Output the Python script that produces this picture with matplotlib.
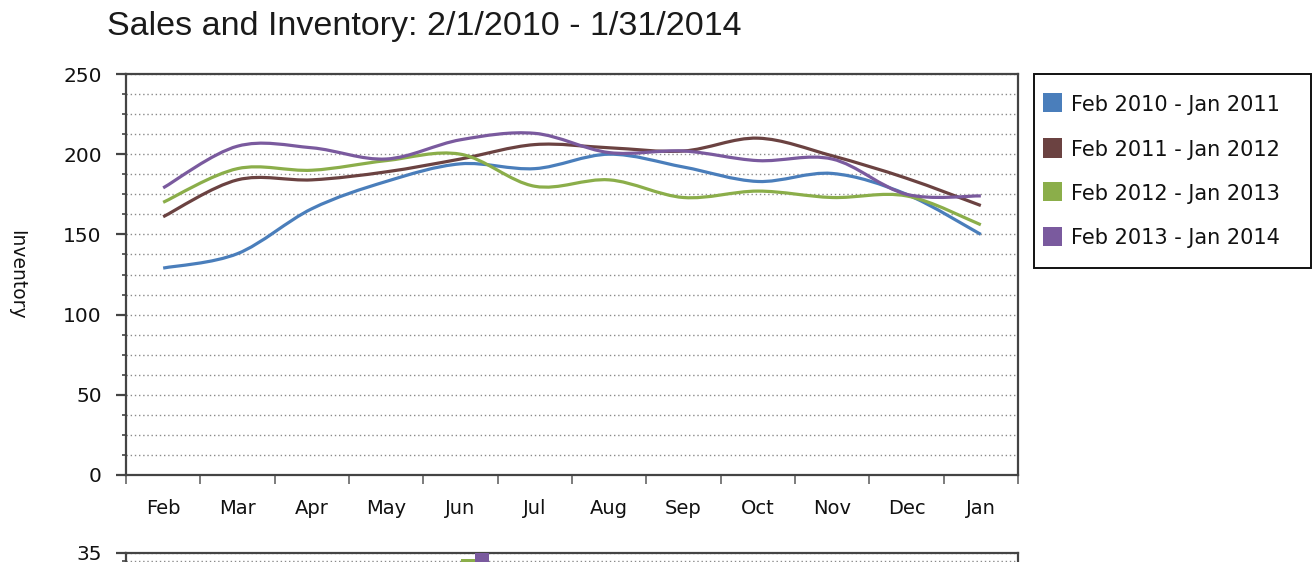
import matplotlib
matplotlib.use("Agg")
import matplotlib.pyplot as plt
from matplotlib.path import Path
from matplotlib.patches import PathPatch, Rectangle
import numpy as np

months = ['Feb', 'Mar', 'Apr', 'May', 'Jun', 'Jul',
          'Aug', 'Sep', 'Oct', 'Nov', 'Dec', 'Jan']

labels = ['Feb 2010 - Jan 2011', 'Feb 2011 - Jan 2012',
          'Feb 2012 - Jan 2013', 'Feb 2013 - Jan 2014']

inv_2010 = [129, 138, 166, 183, 194, 191, 200, 192, 183, 188, 175, 150]
inv_2011 = [161, 184, 184, 189, 197, 206, 204, 202, 210, 199, 185, 168]
inv_2012 = [170, 191, 190, 196, 200, 180, 184, 173, 177, 173, 174, 156]
inv_2013 = [179, 205, 204, 197, 209, 213, 201, 202, 196, 197, 175, 174]

# sales bars: only the June bars poke into view at the bottom edge
sales_jun_2012 = 34
sales_jun_2013 = 36

colors = ['#4A7EBB', '#6B4241', '#8BAE4A', '#7A5A9E']


def smooth_path(ax, xs, ys, color):
    # catmull-rom style curve drawn as cubic bezier segments
    pts = np.column_stack([xs, ys]).astype(float)
    n = len(pts)
    verts = [pts[0]]
    codes = [Path.MOVETO]
    for i in range(n - 1):
        p0 = pts[max(i - 1, 0)]
        p1 = pts[i]
        p2 = pts[i + 1]
        p3 = pts[min(i + 2, n - 1)]
        c1 = p1 + (p2 - p0) / 6.0
        c2 = p2 - (p3 - p1) / 6.0
        verts += [c1, c2, p2]
        codes += [Path.CURVE4] * 3
    patch = PathPatch(Path(verts, codes), facecolor='none', edgecolor=color,
                      lw=2.3, capstyle='butt', joinstyle='round', zorder=3)
    ax.add_patch(patch)


plt.rcParams['font.family'] = 'DejaVu Sans'
FW, FH = 1313, 562
fig = plt.figure(figsize=(FW / 100, FH / 100), dpi=100)

L, W = 126 / FW, 892 / FW
ax = fig.add_axes([L, 1 - 475 / FH, W, 401 / FH])

x = np.arange(len(months))
for vals, c in zip([inv_2010, inv_2011, inv_2012, inv_2013], colors):
    smooth_path(ax, x, vals, c)

ax.set_xlim(-0.5, 11.5)
ax.set_ylim(0, 250)

spine_c = '#444444'
for s in ax.spines.values():
    s.set_color(spine_c)
    s.set_linewidth(1.6)

ax.set_yticks(np.arange(0, 251, 50))
ax.set_yticks(np.arange(0, 250.1, 12.5), minor=True)
ax.set_xticks(np.arange(-0.5, 12, 1))
ax.set_xticklabels([])
ax.set_xticks(x, minor=True)
ax.set_xticklabels(months, minor=True)
ax.tick_params(axis='x', which='major', length=6.5, width=1.2, color='#666666', direction='out')
ax.tick_params(axis='x', which='minor', length=0, pad=17, labelsize=14, labelcolor='#111111')
ax.tick_params(axis='y', which='major', length=7.5, width=1.6, color=spine_c, pad=10,
               labelsize=14.5, labelcolor='#111111')
ax.tick_params(axis='y', which='minor', length=3, width=1.2, color=spine_c)
ax.grid(axis='y', which='both', color='#8a8a8a', linestyle=(0, (1, 2)), lw=1.0)
ax.set_axisbelow(True)
ax.set_ylabel('Inventory', fontsize=13.5, rotation=270, color='#111111')
ax.yaxis.set_label_coords(-0.133, 0.5)

# second chart (sales), mostly below the visible area
h2 = 224 / FH
ax2 = fig.add_axes([L, 1 - 553 / FH - h2, W, h2])
bw = 0.19
ax2.bar(4, sales_jun_2012, width=bw, align='edge', color=colors[2], zorder=3)
ax2.bar(4 + bw, sales_jun_2013, width=bw, align='edge', color=colors[3], zorder=3)
ax2.set_xlim(-0.5, 11.5)
ax2.set_ylim(0, 35)
for s in ax2.spines.values():
    s.set_color(spine_c)
    s.set_linewidth(1.6)
ax2.set_yticks([35])
ax2.set_yticks(np.arange(0, 35.1, 1.25), minor=True)
ax2.set_xticks([])
ax2.tick_params(axis='y', which='major', length=7.5, width=1.6, color=spine_c, pad=10,
                labelsize=14.5, labelcolor='#111111')
ax2.tick_params(axis='y', which='minor', length=3, width=1.2, color=spine_c)
ax2.grid(axis='y', which='both', color='#8a8a8a', linestyle=(0, (1, 2)), lw=1.0)
ax2.set_axisbelow(True)

fig.text(107 / FW, 1 - 35 / FH, 'Sales and Inventory: 2/1/2010 - 1/31/2014',
         family='Liberation Sans', fontsize=24.5, color='#1a1a1a', va='baseline')

# legend box drawn by hand to match the boxed layout
fig.patches.append(Rectangle((1034 / FW, 1 - 268 / FH), 277 / FW, 194 / FH,
                             transform=fig.transFigure, facecolor='white',
                             edgecolor='#111111', lw=1.4))
row_y = [103, 148, 192, 236]
sq = 19
for ry, c, lab in zip(row_y, colors, labels):
    fig.patches.append(Rectangle((1043 / FW, 1 - (ry + sq / 2) / FH), sq / FW, sq / FH,
                                 transform=fig.transFigure, facecolor=c, edgecolor='none'))
    fig.text(1071 / FW, 1 - ry / FH, lab, fontsize=15, color='#111111',
             va='center_baseline', ha='left')

fig.savefig('out.png', dpi=100)
